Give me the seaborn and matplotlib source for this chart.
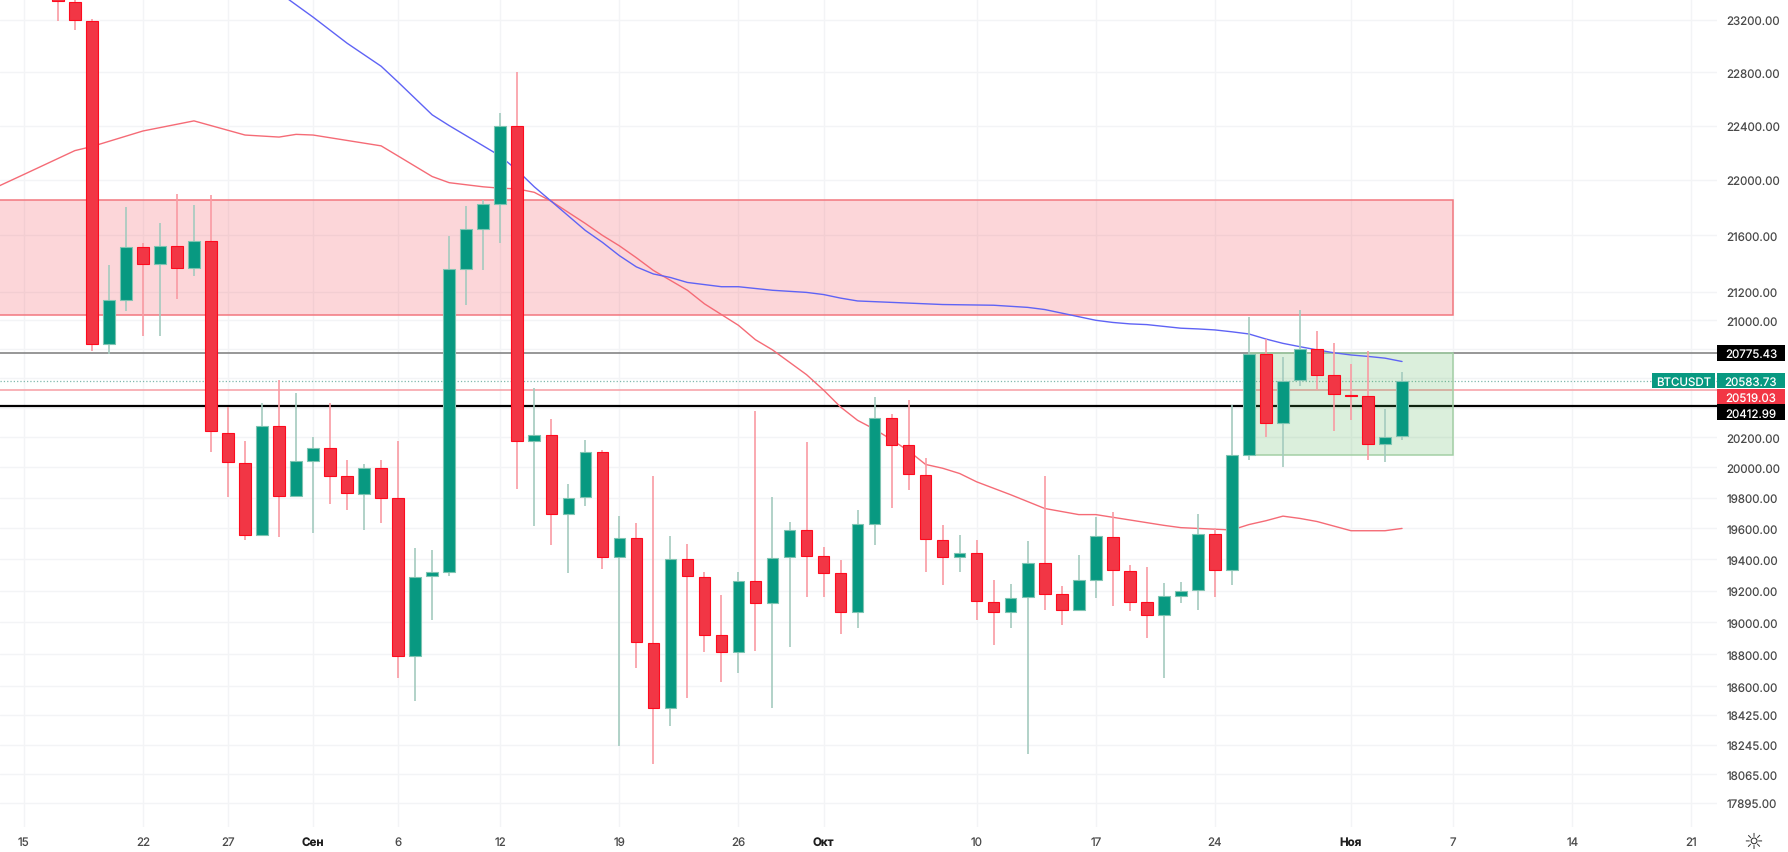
# BTCUSDT daily candles, Aug - Nov

import matplotlib.pyplot as plt
import pandas as pd
import seaborn as sns
from matplotlib.patches import Rectangle
from matplotlib.ticker import NullLocator
from matplotlib.transforms import IdentityTransform

# Day number counted from 15 Aug
candle_days = list(range(2, 82))
opens = [23440, 23340, 23190, 20835, 21143, 21514, 21398, 21526, 21366, 21557,
         20230, 20033, 19560, 20280, 19815, 20043, 20127, 19945, 19828, 19997,
         19797, 18790, 19292, 19320, 21362, 21647, 21822, 22397, 20173, 20218,
         19695, 19803, 20105, 19418, 19537, 18868, 18465, 19400, 19285, 18919,
         18812, 19260, 19120, 19413, 19590, 19420, 19310, 19062, 19630, 20330,
         20150, 19952, 19527, 19418, 19442, 19130, 19062, 19158, 19375, 19178,
         19075, 19268, 19543, 19328, 19125, 19045, 19165, 19204, 19566, 19330,
         20082, 20770, 20295, 20588, 20800, 20620, 20488, 20478, 20155, 20208]
highs = [23480, 23380, 23205, 21385, 21804, 21545, 21685, 21900, 21820, 21888,
         20402, 20173, 20432, 20590, 20500, 20204, 20435, 20050, 20025, 20050,
         20175, 19470, 19462, 21596, 21808, 21853, 22490, 22800, 20537, 20322,
         19890, 20180, 20115, 19682, 19635, 19945, 19548, 19500, 19318, 19170,
         19320, 20380, 19807, 19643, 20170, 19480, 19398, 19720, 20470, 20360,
         20450, 20065, 19625, 19560, 19527, 19268, 19240, 19520, 19945, 19230,
         19428, 19675, 19705, 19365, 19350, 19250, 19255, 19694, 19602, 20417,
         21020, 20870, 20745, 21075, 20925, 20840, 20700, 20790, 20393, 20640]
lows = [23190, 23120, 20787, 20764, 21068, 20891, 20891, 21150, 21310, 20105,
        19803, 19526, 19560, 19546, 19803, 19570, 19760, 19720, 19590, 19635,
        18650, 18510, 19013, 19295, 21110, 21353, 21542, 19860, 19618, 19490,
        19315, 19745, 19340, 18235, 18712, 18127, 18360, 18530, 18812, 18627,
        18680, 18817, 18470, 18844, 19160, 19160, 18925, 18962, 19490, 19730,
        19850, 19320, 19235, 19320, 19017, 18860, 18965, 18190, 19075, 18980,
        19070, 19155, 19100, 19072, 18900, 18650, 19120, 19075, 19158, 19239,
        20050, 20205, 20002, 20550, 20519, 20240, 20320, 20050, 20035, 20180]
closes = [23347, 23200, 20835, 21143, 21514, 21398, 21526, 21366, 21557, 20240,
          20036, 19560, 20280, 19815, 20046, 20127, 19945, 19832, 19997, 19797,
          18790, 19288, 19320, 21362, 21643, 21822, 22397, 20173, 20218, 19695,
          19800, 20105, 19418, 19537, 18875, 18465, 19400, 19295, 18922, 18812,
          19260, 19120, 19410, 19590, 19424, 19315, 19065, 19630, 20330, 20150,
          19955, 19530, 19418, 19438, 19135, 19062, 19155, 19375, 19180, 19075,
          19265, 19550, 19330, 19128, 19045, 19165, 19200, 19566, 19330, 20082,
          20770, 20296, 20585, 20800, 20623, 20490, 20480, 20155, 20205, 20583.73]

fast_days = [-2, 0, 3, 4, 7, 10, 13, 15, 16, 17, 21, 22, 24, 25, 27, 28, 29, 30,
             31, 33, 34, 35, 36, 37, 39, 40, 42, 43, 44, 46, 47, 48, 49, 50, 51,
             52, 53, 54, 55, 56, 58, 60, 61, 62, 63, 65, 67, 68, 69, 70, 71, 72,
             73, 74, 75, 76, 77, 78, 79, 80, 81]
fast_ma = [21925, 22040, 22215, 22245, 22360, 22435, 22330, 22315, 22335, 22330,
           22250, 22175, 22025, 21980, 21950, 21940, 21935, 21910, 21845, 21685,
           21600, 21525, 21440, 21350, 21210, 21115, 20965, 20865, 20795, 20625,
           20520, 20405, 20315, 20255, 20185, 20110, 20020, 19995, 19960, 19905,
           19820, 19730, 19710, 19690, 19690, 19655, 19620, 19605, 19600, 19595,
           19590, 19625, 19650, 19680, 19665, 19645, 19615, 19585, 19585, 19585,
           19600]

slow_days = [15, 17, 19, 21, 22, 24, 25, 27, 28, 29, 30, 31, 33, 34, 35, 36, 37,
             38, 39, 41, 42, 44, 46, 47, 48, 49, 51, 53, 54, 57, 59, 60, 61, 62,
             63, 64, 65, 66, 68, 69, 70, 71, 72, 73, 74, 75, 76, 77, 78, 79, 80,
             81]
slow_ma = [23410, 23220, 23020, 22845, 22725, 22480, 22400, 22250, 22175, 22070,
           21950, 21845, 21635, 21550, 21455, 21375, 21325, 21300, 21265, 21235,
           21235, 21210, 21195, 21180, 21155, 21135, 21125, 21115, 21110, 21105,
           21090, 21075, 21050, 21025, 21000, 20985, 20975, 20970, 20945, 20940,
           20933, 20920, 20905, 20870, 20840, 20817, 20795, 20775, 20760, 20750,
           20738, 20715]

# Tick labels
price_ticks = [23200, 22800, 22400, 22000, 21600, 21200, 21000, 20800, 20600,
               20400, 20200, 20000, 19800, 19600, 19400, 19200, 19000, 18800,
               18600, 18425, 18245, 18065, 17895]
hidden_ticks = [20800, 20600, 20400]  # sit under the price tags
date_ticks = [0, 7, 12, 17, 22, 28, 35, 42, 47, 56, 63, 70, 78, 84, 91, 98]
date_labels = ["15", "22", "27", "Сен", "6", "12", "19", "26", "Окт", "10", "17",
               "24", "Ноя", "7", "14", "21"]
month_labels = ["Сен", "Окт", "Ноя"]

# Levels and zones
sell_zone = (21040, 21855, 84)
buy_zone = (20080, 20775.43, 72, 84)
level_high = 20775.43
last_price = 20583.73
level_red = 20519.03
level_low = 20412.99

GREEN = "#089981"
RED = "#F23645"
FIG_W, FIG_H = 1788, 853
AX_W, AX_H, AX_BOTTOM = 1717, 828, 25
LABEL_SIZE = 8.3

sns.set_theme(style="white")
plt.rcParams["font.family"] = ["Inter", "DejaVu Sans"]
plt.rcParams["text.hinting"] = "no_hinting"

candles = pd.DataFrame(
    {"day": candle_days, "open": opens, "high": highs, "low": lows, "close": closes}
)
candles["up"] = candles["close"] >= candles["open"]
candles["top"] = candles[["open", "close"]].max(axis=1)
candles["bottom"] = candles[["open", "close"]].min(axis=1)

fig = plt.figure(figsize=(FIG_W / 100, FIG_H / 100), dpi=100)
ax = fig.add_axes([0, AX_BOTTOM / FIG_H, AX_W / FIG_W, AX_H / FIG_H])

# Moving averages
sns.lineplot(x=fast_days, y=fast_ma, ax=ax, color="#F56B76", linewidth=1.0,
             errorbar=None, zorder=2.5)
sns.lineplot(x=slow_days, y=slow_ma, ax=ax, color="#5F63F5", linewidth=1.0,
             errorbar=None, zorder=2.5)

ax.set_yscale("log")
ax.set_xlim(-1.4, 99.51)
ax.set_ylim(17753, 23360)

# Zones
ax.add_patch(Rectangle((-5, sell_zone[0]), sell_zone[2] + 5, sell_zone[1] - sell_zone[0],
                       facecolor=(242 / 255, 54 / 255, 69 / 255, 0.2),
                       edgecolor="#F2777F", linewidth=1.1, zorder=2))
ax.add_patch(Rectangle((buy_zone[2], buy_zone[0]), buy_zone[3] - buy_zone[2],
                       buy_zone[1] - buy_zone[0],
                       facecolor=(76 / 255, 175 / 255, 80 / 255, 0.2),
                       edgecolor="#A3CFA5", linewidth=1.1, zorder=2))

# Horizontal levels
ax.axhline(level_high, color="#858585", linewidth=1.2, zorder=1.5)
ax.axhline(last_price, color="#7FB8AC", linewidth=0.9, linestyle=":", zorder=1.5)
ax.axhline(level_red, color="#F7A5AB", linewidth=1.2, zorder=1.5)
ax.axhline(level_low, color="#000000", linewidth=1.6, zorder=1.5)

# Candles
for up, grp in candles.groupby("up"):
    ax.vlines(grp["day"], grp["low"], grp["high"], linewidth=1.2, zorder=2.8,
              color="#A4CBBF" if up else "#F99BA3")
    ax.bar(grp["day"], grp["top"] - grp["bottom"], bottom=grp["bottom"], width=0.68,
           color=GREEN if up else RED, edgecolor="#7FC4B2" if up else "#FF0A1E",
           linewidth=0.8, zorder=3)

# Axes and grid
ax.yaxis.tick_right()
ax.yaxis.set_minor_locator(NullLocator())
ax.xaxis.set_minor_locator(NullLocator())
ax.set_yticks(price_ticks)
ax.set_yticklabels(["" if t in hidden_ticks else f"{t:.2f}" for t in price_ticks])
ax.set_xticks(date_ticks)
ax.set_xticklabels(date_labels)
ax.set_axisbelow(True)
ax.grid(True, color="#F3F4F6", linewidth=1.0)
ax.tick_params(axis="y", length=0, pad=7, labelsize=LABEL_SIZE, labelcolor="#4A4A4A")
ax.tick_params(axis="x", length=0, pad=6.5, labelsize=LABEL_SIZE, labelcolor="#4A4A4A")
for label in ax.get_xticklabels():
    if label.get_text() in month_labels:
        label.set_fontweight("bold")
        label.set_color("#1E1E1E")
for spine in ax.spines.values():
    spine.set_visible(False)
ax.set_xlabel("")
ax.set_ylabel("")


def price_tag(text, x0, x1, yc, color):
    # yc counted in pixels from the top of the figure
    fig.add_artist(Rectangle((x0, FIG_H - yc - 7.8), x1 - x0, 15.6, facecolor=color,
                             edgecolor="none", transform=IdentityTransform(), zorder=5))
    fig.text((x0 + x1) / 2 / FIG_W, 1 - yc / FIG_H, text, color="white", fontsize=LABEL_SIZE,
             ha="center", va="center_baseline", zorder=6)


def price_y(price):
    return FIG_H - ax.transData.transform((0, price))[1]


price_tag(f"{level_high:.2f}", 1717, 1785, price_y(level_high), "#000000")
last_y = price_y(last_price)
price_tag("BTCUSDT", 1652, 1715, last_y, GREEN)
price_tag(f"{last_price:.2f}", 1717, 1785, last_y, GREEN)
price_tag(f"{level_red:.2f}", 1717, 1785, last_y + 15.7, RED)
price_tag(f"{level_low:.2f}", 1717, 1785, last_y + 31.4, "#000000")

# Settings icon in the corner
fig.text(1753 / FIG_W, 1 - 843 / FIG_H, "☼", fontsize=16, color="#333333",
         family="DejaVu Sans", ha="center", va="center")

fig.savefig("out.png", dpi=100)
